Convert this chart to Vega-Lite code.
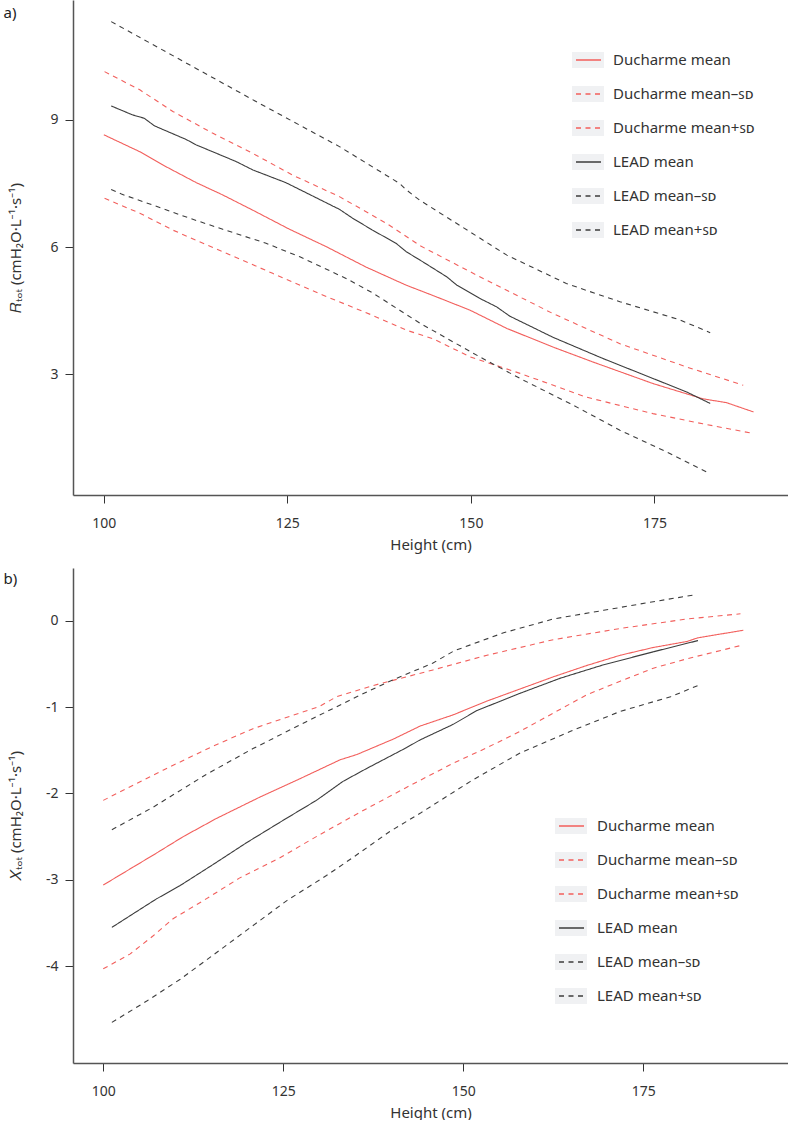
{
  "$schema": "https://vega.github.io/schema/vega-lite/v6.json",
  "padding": {"left": 3, "top": 0, "right": 0, "bottom": 0},
  "bounds": "flush",
  "spacing": 73,
  "config": {
    "view": {"stroke": null},
    "font": "Noto Sans",
    "axis": {
      "grid": false,
      "domainColor": "#555555",
      "domainWidth": 1.5,
      "tickColor": "#333333",
      "tickSize": 8,
      "tickWidth": 1,
      "labelFont": "Noto Sans",
      "labelFontSize": 14,
      "labelColor": "#333333",
      "titleFont": "Noto Sans",
      "titleFontSize": 15,
      "titleFontWeight": "normal",
      "titleColor": "#333333"
    },
    "axisX": {"labelPadding": 13, "titlePadding": 7},
    "axisY": {"labelPadding": 7},
    "legend": {"padding": 0, "labelFont": "Noto Sans", "labelFontSize": 15, "labelColor": "#333333"}
  },
  "resolve": {
    "scale": {"color": "independent", "strokeDash": "independent", "fill": "independent"},
    "legend": {"color": "independent", "strokeDash": "independent", "fill": "independent"}
  },
  "datasets": {
    "legendbox": [
      {"entry": "Ducharme mean"}, {"entry": "Ducharme mean-SD"}, {"entry": "Ducharme mean+SD"},
      {"entry": "LEAD mean"}, {"entry": "LEAD mean-SD"}, {"entry": "LEAD mean+SD"}
    ],
    "rtot": [
      {"series": "Ducharme mean", "height": 100, "value": 8.65},
      {"series": "Ducharme mean", "height": 104.9, "value": 8.25},
      {"series": "Ducharme mean", "height": 108, "value": 7.94},
      {"series": "Ducharme mean", "height": 112.6, "value": 7.52},
      {"series": "Ducharme mean", "height": 116.2, "value": 7.23},
      {"series": "Ducharme mean", "height": 120.3, "value": 6.87},
      {"series": "Ducharme mean", "height": 125.3, "value": 6.42},
      {"series": "Ducharme mean", "height": 130.3, "value": 6.01},
      {"series": "Ducharme mean", "height": 135.7, "value": 5.53},
      {"series": "Ducharme mean", "height": 141.2, "value": 5.1},
      {"series": "Ducharme mean", "height": 144.8, "value": 4.86},
      {"series": "Ducharme mean", "height": 149.9, "value": 4.51},
      {"series": "Ducharme mean", "height": 154.9, "value": 4.08},
      {"series": "Ducharme mean", "height": 161.2, "value": 3.64},
      {"series": "Ducharme mean", "height": 166.6, "value": 3.29},
      {"series": "Ducharme mean", "height": 174.8, "value": 2.78},
      {"series": "Ducharme mean", "height": 181.6, "value": 2.42},
      {"series": "Ducharme mean", "height": 184.8, "value": 2.33},
      {"series": "Ducharme mean", "height": 188.5, "value": 2.11},

      {"series": "Ducharme mean+SD", "height": 100.1, "value": 10.14},
      {"series": "Ducharme mean+SD", "height": 104.9, "value": 9.71},
      {"series": "Ducharme mean+SD", "height": 109.4, "value": 9.2},
      {"series": "Ducharme mean+SD", "height": 114.8, "value": 8.69},
      {"series": "Ducharme mean+SD", "height": 120.3, "value": 8.21},
      {"series": "Ducharme mean+SD", "height": 125.7, "value": 7.7},
      {"series": "Ducharme mean+SD", "height": 132.1, "value": 7.19},
      {"series": "Ducharme mean+SD", "height": 138.5, "value": 6.56},
      {"series": "Ducharme mean+SD", "height": 143.1, "value": 6.03},
      {"series": "Ducharme mean+SD", "height": 152.1, "value": 5.22},
      {"series": "Ducharme mean+SD", "height": 161.2, "value": 4.43},
      {"series": "Ducharme mean+SD", "height": 170.3, "value": 3.72},
      {"series": "Ducharme mean+SD", "height": 179.4, "value": 3.17},
      {"series": "Ducharme mean+SD", "height": 187.1, "value": 2.74},

      {"series": "Ducharme mean-SD", "height": 100.1, "value": 7.15},
      {"series": "Ducharme mean-SD", "height": 104.9, "value": 6.8},
      {"series": "Ducharme mean-SD", "height": 109.4, "value": 6.4},
      {"series": "Ducharme mean-SD", "height": 116.2, "value": 5.89},
      {"series": "Ducharme mean-SD", "height": 123, "value": 5.38},
      {"series": "Ducharme mean-SD", "height": 129.8, "value": 4.87},
      {"series": "Ducharme mean-SD", "height": 136.6, "value": 4.39},
      {"series": "Ducharme mean-SD", "height": 141.2, "value": 4.04},
      {"series": "Ducharme mean-SD", "height": 144.8, "value": 3.84},
      {"series": "Ducharme mean-SD", "height": 149.9, "value": 3.41},
      {"series": "Ducharme mean-SD", "height": 156.7, "value": 3.02},
      {"series": "Ducharme mean-SD", "height": 165.7, "value": 2.46},
      {"series": "Ducharme mean-SD", "height": 174.8, "value": 2.07},
      {"series": "Ducharme mean-SD", "height": 181.6, "value": 1.83},
      {"series": "Ducharme mean-SD", "height": 188.5, "value": 1.6},

      {"series": "LEAD mean", "height": 101, "value": 9.33},
      {"series": "LEAD mean", "height": 103.9, "value": 9.12},
      {"series": "LEAD mean", "height": 105.5, "value": 9.04},
      {"series": "LEAD mean", "height": 106.9, "value": 8.86},
      {"series": "LEAD mean", "height": 111.2, "value": 8.54},
      {"series": "LEAD mean", "height": 112.6, "value": 8.41},
      {"series": "LEAD mean", "height": 118, "value": 8.02},
      {"series": "LEAD mean", "height": 120.3, "value": 7.82},
      {"series": "LEAD mean", "height": 124.8, "value": 7.52},
      {"series": "LEAD mean", "height": 132.1, "value": 6.89},
      {"series": "LEAD mean", "height": 133.9, "value": 6.68},
      {"series": "LEAD mean", "height": 136.6, "value": 6.4},
      {"series": "LEAD mean", "height": 139.8, "value": 6.09},
      {"series": "LEAD mean", "height": 141.2, "value": 5.89},
      {"series": "LEAD mean", "height": 143.1, "value": 5.69},
      {"series": "LEAD mean", "height": 146.7, "value": 5.3},
      {"series": "LEAD mean", "height": 148.1, "value": 5.1},
      {"series": "LEAD mean", "height": 151.2, "value": 4.79},
      {"series": "LEAD mean", "height": 153.5, "value": 4.59},
      {"series": "LEAD mean", "height": 155.3, "value": 4.37},
      {"series": "LEAD mean", "height": 161.2, "value": 3.87},
      {"series": "LEAD mean", "height": 168, "value": 3.37},
      {"series": "LEAD mean", "height": 174.8, "value": 2.9},
      {"series": "LEAD mean", "height": 179.4, "value": 2.58},
      {"series": "LEAD mean", "height": 182.6, "value": 2.31},

      {"series": "LEAD mean+SD", "height": 101, "value": 11.32},
      {"series": "LEAD mean+SD", "height": 112.1, "value": 10.26},
      {"series": "LEAD mean+SD", "height": 121.2, "value": 9.39},
      {"series": "LEAD mean+SD", "height": 132.1, "value": 8.37},
      {"series": "LEAD mean+SD", "height": 140.3, "value": 7.5},
      {"series": "LEAD mean+SD", "height": 141.2, "value": 7.35},
      {"series": "LEAD mean+SD", "height": 143, "value": 7.11},
      {"series": "LEAD mean+SD", "height": 154.9, "value": 5.81},
      {"series": "LEAD mean+SD", "height": 163, "value": 5.14},
      {"series": "LEAD mean+SD", "height": 170.3, "value": 4.71},
      {"series": "LEAD mean+SD", "height": 178.5, "value": 4.28},
      {"series": "LEAD mean+SD", "height": 182.6, "value": 3.98},

      {"series": "LEAD mean-SD", "height": 101, "value": 7.36},
      {"series": "LEAD mean-SD", "height": 102.4, "value": 7.25},
      {"series": "LEAD mean-SD", "height": 106.7, "value": 6.99},
      {"series": "LEAD mean-SD", "height": 111.7, "value": 6.68},
      {"series": "LEAD mean-SD", "height": 116.2, "value": 6.42},
      {"series": "LEAD mean-SD", "height": 122.1, "value": 6.09},
      {"series": "LEAD mean-SD", "height": 126.7, "value": 5.77},
      {"series": "LEAD mean-SD", "height": 133, "value": 5.26},
      {"series": "LEAD mean-SD", "height": 136.6, "value": 4.92},
      {"series": "LEAD mean-SD", "height": 140.3, "value": 4.51},
      {"series": "LEAD mean-SD", "height": 143.1, "value": 4.2},
      {"series": "LEAD mean-SD", "height": 151.2, "value": 3.41},
      {"series": "LEAD mean-SD", "height": 156.7, "value": 2.9},
      {"series": "LEAD mean-SD", "height": 163.5, "value": 2.31},
      {"series": "LEAD mean-SD", "height": 170.3, "value": 1.68},
      {"series": "LEAD mean-SD", "height": 177.1, "value": 1.13},
      {"series": "LEAD mean-SD", "height": 182.6, "value": 0.65}
    ],
    "xtot": [
      {"series": "Ducharme mean", "height": 100, "value": -3.06},
      {"series": "Ducharme mean", "height": 104.2, "value": -2.85},
      {"series": "Ducharme mean", "height": 107.4, "value": -2.69},
      {"series": "Ducharme mean", "height": 111.1, "value": -2.5},
      {"series": "Ducharme mean", "height": 115.7, "value": -2.29},
      {"series": "Ducharme mean", "height": 121.8, "value": -2.04},
      {"series": "Ducharme mean", "height": 127.3, "value": -1.83},
      {"series": "Ducharme mean", "height": 132.9, "value": -1.61},
      {"series": "Ducharme mean", "height": 135.2, "value": -1.55},
      {"series": "Ducharme mean", "height": 140.3, "value": -1.37},
      {"series": "Ducharme mean", "height": 144, "value": -1.22},
      {"series": "Ducharme mean", "height": 148.6, "value": -1.09},
      {"series": "Ducharme mean", "height": 153.3, "value": -0.93},
      {"series": "Ducharme mean", "height": 157.9, "value": -0.79},
      {"series": "Ducharme mean", "height": 162.5, "value": -0.65},
      {"series": "Ducharme mean", "height": 167.1, "value": -0.52},
      {"series": "Ducharme mean", "height": 171.8, "value": -0.4},
      {"series": "Ducharme mean", "height": 176.4, "value": -0.31},
      {"series": "Ducharme mean", "height": 181.1, "value": -0.24},
      {"series": "Ducharme mean", "height": 182.5, "value": -0.2},
      {"series": "Ducharme mean", "height": 188.9, "value": -0.11},

      {"series": "Ducharme mean+SD", "height": 100, "value": -2.08},
      {"series": "Ducharme mean+SD", "height": 108.3, "value": -1.73},
      {"series": "Ducharme mean+SD", "height": 115.3, "value": -1.45},
      {"series": "Ducharme mean+SD", "height": 120.8, "value": -1.25},
      {"series": "Ducharme mean+SD", "height": 130.1, "value": -0.99},
      {"series": "Ducharme mean+SD", "height": 132.4, "value": -0.88},
      {"series": "Ducharme mean+SD", "height": 137.5, "value": -0.75},
      {"series": "Ducharme mean+SD", "height": 145.8, "value": -0.57},
      {"series": "Ducharme mean+SD", "height": 153.3, "value": -0.4},
      {"series": "Ducharme mean+SD", "height": 162.5, "value": -0.22},
      {"series": "Ducharme mean+SD", "height": 171.8, "value": -0.09},
      {"series": "Ducharme mean+SD", "height": 181.1, "value": 0.02},
      {"series": "Ducharme mean+SD", "height": 188.5, "value": 0.08},

      {"series": "Ducharme mean-SD", "height": 100, "value": -4.03},
      {"series": "Ducharme mean-SD", "height": 103.7, "value": -3.86},
      {"series": "Ducharme mean-SD", "height": 106.9, "value": -3.65},
      {"series": "Ducharme mean-SD", "height": 109.7, "value": -3.45},
      {"series": "Ducharme mean-SD", "height": 114.3, "value": -3.22},
      {"series": "Ducharme mean-SD", "height": 118.9, "value": -2.98},
      {"series": "Ducharme mean-SD", "height": 124.4, "value": -2.75},
      {"series": "Ducharme mean-SD", "height": 130, "value": -2.48},
      {"series": "Ducharme mean-SD", "height": 135.6, "value": -2.22},
      {"series": "Ducharme mean-SD", "height": 142.1, "value": -1.93},
      {"series": "Ducharme mean-SD", "height": 148.6, "value": -1.65},
      {"series": "Ducharme mean-SD", "height": 153.3, "value": -1.47},
      {"series": "Ducharme mean-SD", "height": 157.9, "value": -1.28},
      {"series": "Ducharme mean-SD", "height": 162.5, "value": -1.07},
      {"series": "Ducharme mean-SD", "height": 167.1, "value": -0.86},
      {"series": "Ducharme mean-SD", "height": 171.8, "value": -0.7},
      {"series": "Ducharme mean-SD", "height": 176.4, "value": -0.55},
      {"series": "Ducharme mean-SD", "height": 181.1, "value": -0.44},
      {"series": "Ducharme mean-SD", "height": 188.9, "value": -0.28},

      {"series": "LEAD mean", "height": 101.2, "value": -3.55},
      {"series": "LEAD mean", "height": 104.2, "value": -3.39},
      {"series": "LEAD mean", "height": 107.4, "value": -3.22},
      {"series": "LEAD mean", "height": 110.6, "value": -3.07},
      {"series": "LEAD mean", "height": 115.3, "value": -2.82},
      {"series": "LEAD mean", "height": 119.9, "value": -2.57},
      {"series": "LEAD mean", "height": 125, "value": -2.31},
      {"series": "LEAD mean", "height": 129.6, "value": -2.08},
      {"series": "LEAD mean", "height": 133.3, "value": -1.86},
      {"series": "LEAD mean", "height": 136.6, "value": -1.71},
      {"series": "LEAD mean", "height": 142.1, "value": -1.47},
      {"series": "LEAD mean", "height": 144, "value": -1.38},
      {"series": "LEAD mean", "height": 148.6, "value": -1.2},
      {"series": "LEAD mean", "height": 151.9, "value": -1.04},
      {"series": "LEAD mean", "height": 157.9, "value": -0.84},
      {"series": "LEAD mean", "height": 163.5, "value": -0.665},
      {"series": "LEAD mean", "height": 169.5, "value": -0.51},
      {"series": "LEAD mean", "height": 176.4, "value": -0.36},
      {"series": "LEAD mean", "height": 182.6, "value": -0.23},

      {"series": "LEAD mean+SD", "height": 101.2, "value": -2.42},
      {"series": "LEAD mean+SD", "height": 106.9, "value": -2.16},
      {"series": "LEAD mean+SD", "height": 114.3, "value": -1.78},
      {"series": "LEAD mean+SD", "height": 120.8, "value": -1.48},
      {"series": "LEAD mean+SD", "height": 128.2, "value": -1.17},
      {"series": "LEAD mean+SD", "height": 135.2, "value": -0.88},
      {"series": "LEAD mean+SD", "height": 139.8, "value": -0.7},
      {"series": "LEAD mean+SD", "height": 145.8, "value": -0.49},
      {"series": "LEAD mean+SD", "height": 148.7, "value": -0.35},
      {"series": "LEAD mean+SD", "height": 155.6, "value": -0.14},
      {"series": "LEAD mean+SD", "height": 162.5, "value": 0.02},
      {"series": "LEAD mean+SD", "height": 169.5, "value": 0.12},
      {"series": "LEAD mean+SD", "height": 176.4, "value": 0.22},
      {"series": "LEAD mean+SD", "height": 182.2, "value": 0.3},

      {"series": "LEAD mean-SD", "height": 101.2, "value": -4.65},
      {"series": "LEAD mean-SD", "height": 106.1, "value": -4.4},
      {"series": "LEAD mean-SD", "height": 110.7, "value": -4.15},
      {"series": "LEAD mean-SD", "height": 114.3, "value": -3.93},
      {"series": "LEAD mean-SD", "height": 119, "value": -3.64},
      {"series": "LEAD mean-SD", "height": 125.5, "value": -3.24},
      {"series": "LEAD mean-SD", "height": 131, "value": -2.95},
      {"series": "LEAD mean-SD", "height": 134.7, "value": -2.74},
      {"series": "LEAD mean-SD", "height": 139.8, "value": -2.44},
      {"series": "LEAD mean-SD", "height": 144, "value": -2.23},
      {"series": "LEAD mean-SD", "height": 151, "value": -1.86},
      {"series": "LEAD mean-SD", "height": 157.9, "value": -1.53},
      {"series": "LEAD mean-SD", "height": 164.9, "value": -1.28},
      {"series": "LEAD mean-SD", "height": 171.8, "value": -1.05},
      {"series": "LEAD mean-SD", "height": 178.8, "value": -0.88},
      {"series": "LEAD mean-SD", "height": 182.9, "value": -0.74}
    ]
  },
  "vconcat": [
    {
      "width": 715,
      "height": 495,
      "resolve": {"axis": {"x": "independent"}},
      "layer": [
        {
          "data": {"name": "legendbox"},
          "mark": {"type": "point", "size": 0, "filled": true, "opacity": 1, "strokeWidth": 0},
          "encoding": {
            "x": {"datum": 100, "type": "quantitative", "axis": {"orient": "top", "domain": false, "ticks": false, "labels": false, "title": "a)", "titleX": -70, "titleY": 12, "titleAngle": 0, "titleAlign": "left", "titleBaseline": "middle", "titleFontSize": 15, "titleColor": "#222222", "titlePadding": 0}},
            "fill": {
              "field": "entry", "type": "nominal",
              "scale": {"range": ["#f0f1f3", "#f0f1f3", "#f0f1f3", "#f0f1f3", "#f0f1f3", "#f0f1f3"]},
              "legend": {"title": null, "orient": "none", "legendX": 499, "legendY": 44, "symbolType": "M-1,-0.5H1V0.5H-1Z", "symbolSize": 1024, "symbolStrokeWidth": 0, "symbolOpacity": 1, "labelExpr": "''", "rowPadding": 10, "labelOffset": 11, "zindex": 0}
            }
          }
        },
        {
          "data": {"name": "rtot"},
          "mark": {"type": "line", "strokeWidth": 1.1},
          "encoding": {
            "x": {"field": "height", "type": "quantitative", "scale": {"domain": [95.8, 193.2], "nice": false, "zero": false}, "axis": {"orient": "bottom", "values": [100, 125, 150, 175], "title": "Height (cm)"}},
            "y": {"field": "value", "type": "quantitative", "scale": {"domain": [0.15, 11.83], "nice": false, "zero": false}, "axis": {"values": [3, 6, 9], "title": "𝑅ₜₒₜ (cmH₂O·L⁻¹·s⁻¹)", "titleX": -58, "titleBaseline": "middle"}},
            "color": {
              "field": "series", "type": "nominal",
              "scale": {"domain": ["Ducharme mean", "Ducharme mean-SD", "Ducharme mean+SD", "LEAD mean", "LEAD mean-SD", "LEAD mean+SD"], "range": ["#f25f5c", "#f25f5c", "#f25f5c", "#3d3d3d", "#3d3d3d", "#3d3d3d"]},
              "legend": {"title": null, "orient": "none", "legendX": 502, "legendY": 46.5, "symbolType": "stroke", "symbolSize": 625, "symbolStrokeWidth": 1.3, "rowPadding": 12, "labelOffset": 11, "zindex": 1, "labelExpr": "replace(replace(datum.label, '-SD', '–ꜱᴅ'), '+SD', '+ꜱᴅ')"}
            },
            "strokeDash": {
              "field": "series", "type": "nominal",
              "scale": {"domain": ["Ducharme mean", "Ducharme mean-SD", "Ducharme mean+SD", "LEAD mean", "LEAD mean-SD", "LEAD mean+SD"], "range": [[1, 0], [5, 4.5], [5, 4.5], [1, 0], [5, 4.5], [5, 4.5]]},
              "legend": {"title": null, "orient": "none", "legendX": 502, "legendY": 46.5, "symbolType": "stroke", "symbolSize": 625, "symbolStrokeWidth": 1.3, "rowPadding": 12, "labelOffset": 11, "zindex": 1, "labelExpr": "replace(replace(datum.label, '-SD', '–ꜱᴅ'), '+SD', '+ꜱᴅ')"}
            }
          }
        }
      ]
    },
    {
      "width": 715,
      "height": 495,
      "resolve": {"axis": {"x": "independent"}},
      "layer": [
        {
          "data": {"name": "legendbox"},
          "mark": {"type": "point", "size": 0, "filled": true, "opacity": 1, "strokeWidth": 0},
          "encoding": {
            "x": {"datum": 100, "type": "quantitative", "axis": {"orient": "top", "domain": false, "ticks": false, "labels": false, "title": "b)", "titleX": -70, "titleY": 10, "titleAngle": 0, "titleAlign": "left", "titleBaseline": "middle", "titleFontSize": 15, "titleColor": "#222222", "titlePadding": 0}},
            "fill": {
              "field": "entry", "type": "nominal",
              "scale": {"range": ["#f0f1f3", "#f0f1f3", "#f0f1f3", "#f0f1f3", "#f0f1f3", "#f0f1f3"]},
              "legend": {"title": null, "orient": "none", "legendX": 482, "legendY": 242, "symbolType": "M-1,-0.5H1V0.5H-1Z", "symbolSize": 1024, "symbolStrokeWidth": 0, "symbolOpacity": 1, "labelExpr": "''", "rowPadding": 10, "labelOffset": 12, "zindex": 0}
            }
          }
        },
        {
          "data": {"name": "xtot"},
          "mark": {"type": "line", "strokeWidth": 1.1},
          "encoding": {
            "x": {"field": "height", "type": "quantitative", "scale": {"domain": [95.8, 195.1], "nice": false, "zero": false}, "axis": {"orient": "bottom", "values": [100, 125, 150, 175], "title": "Height (cm)"}},
            "y": {"field": "value", "type": "quantitative", "scale": {"domain": [-5.12, 0.61], "nice": false, "zero": false}, "axis": {"values": [0, -1, -2, -3, -4], "labelExpr": "replace(datum.label, '−', '-')", "title": "𝑋ₜₒₜ (cmH₂O·L⁻¹·s⁻¹)", "titleX": -58, "titleBaseline": "middle"}},
            "color": {
              "field": "series", "type": "nominal",
              "scale": {"domain": ["Ducharme mean", "Ducharme mean-SD", "Ducharme mean+SD", "LEAD mean", "LEAD mean-SD", "LEAD mean+SD"], "range": ["#f25f5c", "#f25f5c", "#f25f5c", "#3d3d3d", "#3d3d3d", "#3d3d3d"]},
              "legend": {"title": null, "orient": "none", "legendX": 485, "legendY": 244.5, "symbolType": "stroke", "symbolSize": 625, "symbolStrokeWidth": 1.3, "rowPadding": 12, "labelOffset": 12, "zindex": 1, "labelExpr": "replace(replace(datum.label, '-SD', '–ꜱᴅ'), '+SD', '+ꜱᴅ')"}
            },
            "strokeDash": {
              "field": "series", "type": "nominal",
              "scale": {"domain": ["Ducharme mean", "Ducharme mean-SD", "Ducharme mean+SD", "LEAD mean", "LEAD mean-SD", "LEAD mean+SD"], "range": [[1, 0], [5, 4.5], [5, 4.5], [1, 0], [5, 4.5], [5, 4.5]]},
              "legend": {"title": null, "orient": "none", "legendX": 485, "legendY": 244.5, "symbolType": "stroke", "symbolSize": 625, "symbolStrokeWidth": 1.3, "rowPadding": 12, "labelOffset": 12, "zindex": 1, "labelExpr": "replace(replace(datum.label, '-SD', '–ꜱᴅ'), '+SD', '+ꜱᴅ')"}
            }
          }
        }
      ]
    }
  ]
}
